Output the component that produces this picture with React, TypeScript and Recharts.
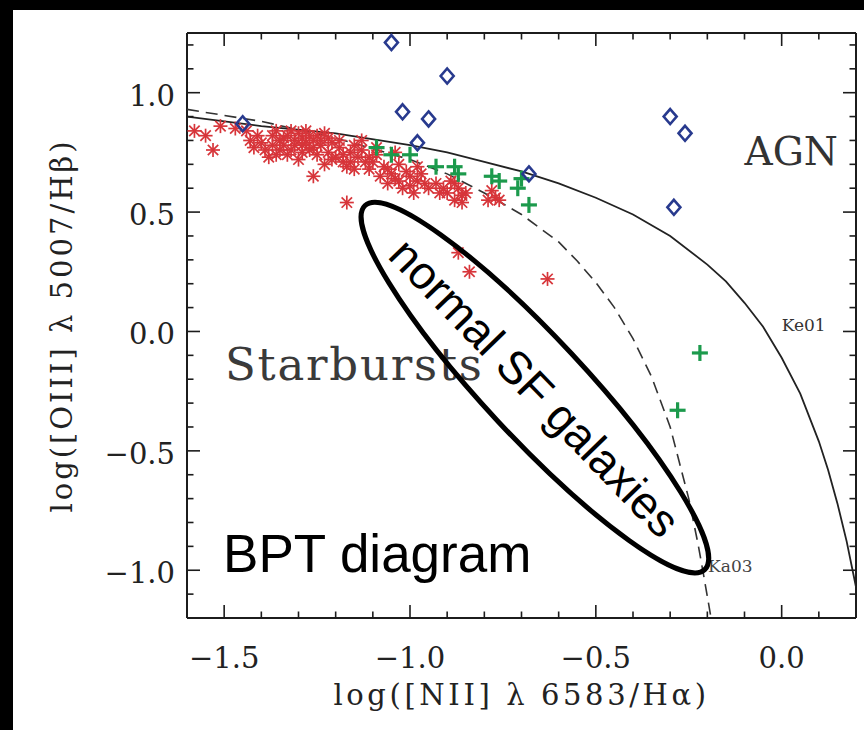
import React from 'react'
import { ScatterChart, Scatter, XAxis, YAxis, ReferenceDot } from 'recharts'

// tick values (minor every 0.1, labelled every 0.5)
const xTicks = [-1.5, -1.4, -1.3, -1.2, -1.1, -1.0, -0.9, -0.8, -0.7, -0.6, -0.5, -0.4, -0.3, -0.2, -0.1, 0.0, 0.1]
const yTicks = [-1.1, -1.0, -0.9, -0.8, -0.7, -0.6, -0.5, -0.4, -0.3, -0.2, -0.1, 0.0, 0.1, 0.2, 0.3, 0.4, 0.5, 0.6, 0.7, 0.8, 0.9, 1.0, 1.1, 1.2]

// star-forming galaxies (red asterisks)
const starburstPts = [
  { x: -1.58, y: 0.84 }, { x: -1.55, y: 0.82 }, { x: -1.51, y: 0.86 }, { x: -1.47, y: 0.85 }, { x: -1.53, y: 0.76 },
  { x: -1.44, y: 0.84 }, { x: -1.43, y: 0.8 }, { x: -1.42, y: 0.77 }, { x: -1.41, y: 0.82 }, { x: -1.4, y: 0.79 },
  { x: -1.39, y: 0.76 }, { x: -1.38, y: 0.73 }, { x: -1.37, y: 0.82 }, { x: -1.37, y: 0.78 }, { x: -1.36, y: 0.84 },
  { x: -1.36, y: 0.74 }, { x: -1.35, y: 0.8 }, { x: -1.35, y: 0.76 }, { x: -1.34, y: 0.78 }, { x: -1.34, y: 0.81 },
  { x: -1.33, y: 0.82 }, { x: -1.33, y: 0.74 }, { x: -1.32, y: 0.76 }, { x: -1.32, y: 0.84 }, { x: -1.31, y: 0.8 },
  { x: -1.31, y: 0.78 }, { x: -1.3, y: 0.83 }, { x: -1.3, y: 0.72 }, { x: -1.29, y: 0.78 }, { x: -1.29, y: 0.81 },
  { x: -1.29, y: 0.75 }, { x: -1.28, y: 0.79 }, { x: -1.28, y: 0.84 }, { x: -1.27, y: 0.76 }, { x: -1.27, y: 0.82 },
  { x: -1.26, y: 0.8 }, { x: -1.26, y: 0.77 }, { x: -1.26, y: 0.65 }, { x: -1.25, y: 0.74 }, { x: -1.25, y: 0.82 },
  { x: -1.24, y: 0.78 }, { x: -1.24, y: 0.8 }, { x: -1.23, y: 0.83 }, { x: -1.23, y: 0.7 }, { x: -1.22, y: 0.75 },
  { x: -1.22, y: 0.81 }, { x: -1.21, y: 0.79 }, { x: -1.21, y: 0.72 }, { x: -1.2, y: 0.73 }, { x: -1.19, y: 0.77 },
  { x: -1.19, y: 0.8 }, { x: -1.18, y: 0.71 }, { x: -1.18, y: 0.74 }, { x: -1.17, y: 0.69 }, { x: -1.17, y: 0.54 },
  { x: -1.16, y: 0.75 }, { x: -1.16, y: 0.71 }, { x: -1.15, y: 0.78 }, { x: -1.15, y: 0.68 }, { x: -1.14, y: 0.73 },
  { x: -1.13, y: 0.8 }, { x: -1.13, y: 0.76 }, { x: -1.12, y: 0.71 }, { x: -1.11, y: 0.68 }, { x: -1.11, y: 0.73 },
  { x: -1.1, y: 0.71 }, { x: -1.09, y: 0.74 }, { x: -1.09, y: 0.77 }, { x: -1.08, y: 0.65 }, { x: -1.07, y: 0.69 },
  { x: -1.06, y: 0.62 }, { x: -1.06, y: 0.68 }, { x: -1.05, y: 0.66 }, { x: -1.04, y: 0.64 }, { x: -1.04, y: 0.75 },
  { x: -1.03, y: 0.7 }, { x: -1.03, y: 0.63 }, { x: -1.02, y: 0.6 }, { x: -1.01, y: 0.67 }, { x: -1.0, y: 0.61 },
  { x: -1.0, y: 0.65 }, { x: -0.99, y: 0.58 }, { x: -0.98, y: 0.63 }, { x: -0.98, y: 0.69 }, { x: -0.97, y: 0.66 },
  { x: -0.96, y: 0.62 }, { x: -0.95, y: 0.6 }, { x: -0.93, y: 0.62 }, { x: -0.92, y: 0.58 }, { x: -0.91, y: 0.6 },
  { x: -0.9, y: 0.58 }, { x: -0.89, y: 0.63 }, { x: -0.88, y: 0.55 }, { x: -0.88, y: 0.62 }, { x: -0.87, y: 0.6 },
  { x: -0.86, y: 0.54 }, { x: -0.86, y: 0.57 }, { x: -0.85, y: 0.58 }, { x: -0.79, y: 0.55 }, { x: -0.78, y: 0.59 },
  { x: -0.77, y: 0.56 }, { x: -0.76, y: 0.55 }, { x: -0.87, y: 0.33 }, { x: -0.84, y: 0.25 }, { x: -0.63, y: 0.22 },
]

// composite galaxies (green plus)
const compositePts = [
  { x: -1.09, y: 0.77 }, { x: -1.05, y: 0.74 }, { x: -1.0, y: 0.74 }, { x: -0.93, y: 0.69 }, { x: -0.88, y: 0.69 },
  { x: -0.87, y: 0.66 }, { x: -0.78, y: 0.65 }, { x: -0.76, y: 0.63 }, { x: -0.7, y: 0.64 }, { x: -0.71, y: 0.6 },
  { x: -0.68, y: 0.53 }, { x: -0.22, y: -0.09 }, { x: -0.28, y: -0.33 },
]

// AGN (blue diamonds)
const agnPts = [
  { x: -1.45, y: 0.87 }, { x: -1.05, y: 1.21 }, { x: -0.9, y: 1.07 }, { x: -1.02, y: 0.92 }, { x: -0.95, y: 0.89 },
  { x: -0.98, y: 0.79 }, { x: -0.68, y: 0.66 }, { x: -0.3, y: 0.9 }, { x: -0.26, y: 0.83 }, { x: -0.29, y: 0.52 },
]

// Kewley et al. 2001 maximum starburst line (solid)
const ke01Line = [
  { x: -1.6, y: 0.9 }, { x: -1.4, y: 0.86 }, { x: -1.2, y: 0.83 }, { x: -1.0, y: 0.78 }, { x: -0.9, y: 0.75 },
  { x: -0.8, y: 0.71 }, { x: -0.7, y: 0.67 }, { x: -0.6, y: 0.62 }, { x: -0.5, y: 0.56 }, { x: -0.4, y: 0.49 },
  { x: -0.3, y: 0.4 }, { x: -0.2, y: 0.28 }, { x: -0.15, y: 0.21 }, { x: -0.1, y: 0.12 }, { x: -0.05, y: 0.02 },
  { x: 0.0, y: -0.11 }, { x: 0.05, y: -0.26 }, { x: 0.1, y: -0.46 }, { x: 0.125, y: -0.58 }, { x: 0.15, y: -0.72 },
  { x: 0.175, y: -0.88 }, { x: 0.2, y: -1.07 },
]

// Kauffmann et al. 2003 line (dashed)
const ka03Line = [
  { x: -1.6, y: 0.93 }, { x: -1.4, y: 0.88 }, { x: -1.2, y: 0.81 }, { x: -1.0, y: 0.72 }, { x: -0.9, y: 0.66 },
  { x: -0.8, y: 0.58 }, { x: -0.7, y: 0.49 }, { x: -0.6, y: 0.375 }, { x: -0.55, y: 0.295 }, { x: -0.5, y: 0.205 },
  { x: -0.45, y: 0.1 }, { x: -0.4, y: -0.03 }, { x: -0.35, y: -0.19 }, { x: -0.3, y: -0.4 }, { x: -0.275, y: -0.55 },
  { x: -0.25, y: -0.7 }, { x: -0.225, y: -0.89 }, { x: -0.21, y: -1.02 }, { x: -0.19, y: -1.2 },
]

const FRAME = '#1c1c1c'
const SERIF = '"DejaVu Serif", "Liberation Serif", serif'
const SANS = '"Liberation Sans", Arial, Helvetica, sans-serif'
const MAJOR = 13
const MINOR = 6.5

const isMajor = (v: number) => Math.abs(v * 2 - Math.round(v * 2)) < 1e-6
const fmt = (v: number) => (v < -1e-9 ? '\u2212' : '') + Math.abs(v).toFixed(1)

function BottomTick({ x, y, payload }: any) {
  const major = isMajor(payload.value)
  return (
    <g>
      <line x1={x} x2={x} y1={y} y2={y - (major ? MAJOR : MINOR)} stroke={FRAME} strokeWidth={1.6} />
      {major && (
        <text x={x} y={y + 50} textAnchor="middle" fontFamily={SERIF} fontSize={29} fill="#222">
          {fmt(payload.value)}
        </text>
      )}
    </g>
  )
}

function TopTick({ x, y, payload }: any) {
  const major = isMajor(payload.value)
  return <line x1={x} x2={x} y1={y} y2={y + (major ? MAJOR : MINOR)} stroke={FRAME} strokeWidth={1.6} />
}

function LeftTick({ x, y, payload }: any) {
  const major = isMajor(payload.value)
  return (
    <g>
      <line x1={x} x2={x + (major ? MAJOR : MINOR)} y1={y} y2={y} stroke={FRAME} strokeWidth={1.6} />
      {major && (
        <text x={x - 12} y={y + 13} textAnchor="end" fontFamily={SERIF} fontSize={29} fill="#222">
          {fmt(payload.value)}
        </text>
      )}
    </g>
  )
}

function RightTick({ x, y, payload }: any) {
  const major = isMajor(payload.value)
  return <line x1={x} x2={x - (major ? MAJOR : MINOR)} y1={y} y2={y} stroke={FRAME} strokeWidth={1.6} />
}

const Asterisk = ({ cx, cy }: any) => (
  <g stroke="#d7353a" strokeWidth={1.7}>
    <line x1={cx - 7} x2={cx + 7} y1={cy} y2={cy} />
    <line x1={cx} x2={cx} y1={cy - 7} y2={cy + 7} />
    <line x1={cx - 5.2} x2={cx + 5.2} y1={cy - 5.2} y2={cy + 5.2} />
    <line x1={cx - 5.2} x2={cx + 5.2} y1={cy + 5.2} y2={cy - 5.2} />
  </g>
)

const Plus = ({ cx, cy }: any) => (
  <g stroke="#1c9a4c" strokeWidth={3.2}>
    <line x1={cx - 8} x2={cx + 8} y1={cy} y2={cy} />
    <line x1={cx} x2={cx} y1={cy - 8} y2={cy + 8} />
  </g>
)

const Diamond = ({ cx, cy }: any) => (
  <polygon
    points={`${cx},${cy - 7.5} ${cx + 6.5},${cy} ${cx},${cy + 7.5} ${cx - 6.5},${cy}`}
    fill="none"
    stroke="#283a8e"
    strokeWidth={2.6}
  />
)

const NoShape = () => <g />

const note = (text: string, size: number, family: string, fill: string, spacing = 0) =>
  ({ cx, cy }: any) => (
    <text x={cx} y={cy} fontFamily={family} fontSize={size} fill={fill} letterSpacing={spacing}>
      {text}
    </text>
  )

const SfEllipse = ({ cx, cy }: any) => (
  <g>
    <ellipse cx={cx} cy={cy} rx={249} ry={50} transform={`rotate(47 ${cx} ${cy})`} fill="none" stroke="#000" strokeWidth={5} />
    <text
      x={cx}
      y={cy}
      transform={`rotate(46 ${cx} ${cy})`}
      textAnchor="middle"
      dominantBaseline="central"
      fontFamily={SANS}
      fontSize={46}
      fill="#000"
    >
      normal SF galaxies
    </text>
  </g>
)

const yTitle = ({ viewBox }: any) => {
  const cx = viewBox.x + 62
  const cy = viewBox.y + viewBox.height / 2
  return (
    <text x={cx} y={cy} transform={`rotate(-90 ${cx} ${cy})`} textAnchor="middle" dominantBaseline="central"
      fontFamily={SERIF} fontSize={29} letterSpacing={3} fill="#222">
      log([OIII] λ 5007/Hβ)
    </text>
  )
}

const xTitle = ({ viewBox }: any) => (
  <text x={viewBox.x + viewBox.width / 2} y={viewBox.y + 87} textAnchor="middle"
    fontFamily={SERIF} fontSize={29} letterSpacing={3.6} fill="#222">
    log([NII] λ 6583/Hα)
  </text>
)

export default function App() {
  return (
    <div style={{ position: 'absolute', left: 0, top: 0, width: 864, height: 730, background: '#000' }}>
      <div style={{ position: 'absolute', left: 13, top: 10, width: 851, height: 720, background: '#fff' }} />
      <div style={{ position: 'absolute', left: 0, top: 0 }}>
        <ScatterChart width={864} height={730} margin={{ top: 32, right: 7, bottom: 0, left: 0 }}>
          <XAxis
            dataKey="x"
            type="number"
            domain={[-1.6, 0.2]}
            allowDataOverflow
            ticks={xTicks}
            interval={0}
            height={112}
            tickSize={0}
            tickMargin={0}
            tickLine={false}
            axisLine={{ stroke: FRAME, strokeWidth: 2 }}
            tick={<BottomTick />}
            label={{ content: xTitle }}
          />
          <XAxis
            xAxisId="top"
            orientation="top"
            dataKey="x"
            type="number"
            domain={[-1.6, 0.2]}
            allowDataOverflow
            ticks={xTicks}
            interval={0}
            height={1}
            tickSize={0}
            tickMargin={0}
            tickLine={false}
            axisLine={{ stroke: FRAME, strokeWidth: 2 }}
            tick={<TopTick />}
          />
          <YAxis
            dataKey="y"
            type="number"
            domain={[-1.2, 1.25]}
            allowDataOverflow
            ticks={yTicks}
            interval={0}
            width={187}
            tickSize={0}
            tickMargin={0}
            tickLine={false}
            axisLine={{ stroke: FRAME, strokeWidth: 2 }}
            tick={<LeftTick />}
            label={{ content: yTitle }}
          />
          <YAxis
            yAxisId="right"
            orientation="right"
            dataKey="y"
            type="number"
            domain={[-1.2, 1.25]}
            allowDataOverflow
            ticks={yTicks}
            interval={0}
            width={1}
            tickSize={0}
            tickMargin={0}
            tickLine={false}
            axisLine={{ stroke: FRAME, strokeWidth: 2 }}
            tick={<RightTick />}
          />

          {/* invisible series so the mirrored top/right axes are drawn */}
          <Scatter xAxisId="top" yAxisId="right" data={agnPts} shape={NoShape} legendType="none" isAnimationActive={false} />

          <Scatter data={ka03Line} line={{ stroke: '#333', strokeWidth: 1.6, strokeDasharray: '12 7' }} lineType="joint" shape={NoShape} isAnimationActive={false} />
          <Scatter data={ke01Line} line={{ stroke: '#222', strokeWidth: 1.8 }} lineType="joint" shape={NoShape} isAnimationActive={false} />
          <Scatter data={starburstPts} shape={Asterisk} isAnimationActive={false} />
          <Scatter data={compositePts} shape={Plus} isAnimationActive={false} />
          <Scatter data={agnPts} shape={Diamond} isAnimationActive={false} />

          <ReferenceDot x={-0.1} y={0.697} r={0} shape={note('AGN', 39, SERIF, '#333')} />
          <ReferenceDot x={-1.498} y={-0.203} r={0} shape={note('Starbursts', 45, SERIF, '#3a3a3a', 1.8)} />
          <ReferenceDot x={0.0} y={0.0} r={0} shape={note('Ke01', 17, SERIF, '#333')} />
          <ReferenceDot x={-0.198} y={-1.007} r={0} shape={note('Ka03', 17, SERIF, '#444')} />
          <ReferenceDot x={-1.503} y={-1.007} r={0} shape={note('BPT diagram', 53, SANS, '#000')} />
          <ReferenceDot x={-0.664} y={-0.235} r={0} shape={SfEllipse} />
        </ScatterChart>
      </div>
    </div>
  )
}
